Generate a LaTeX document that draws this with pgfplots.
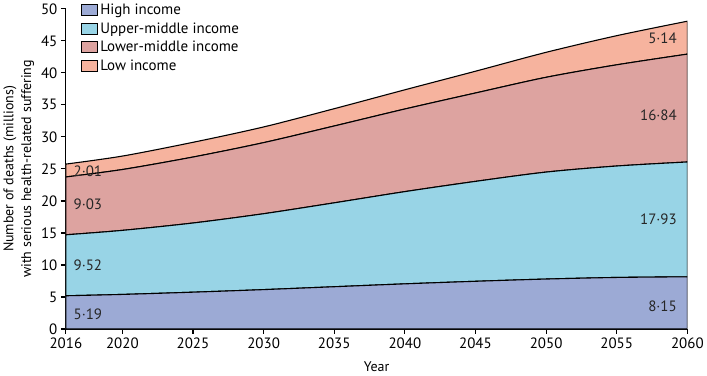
\documentclass[border=0pt]{standalone}
\usepackage{fontspec}
\setmainfont{PT Sans}
\usepackage{pgfplots}
\pgfplotsset{compat=1.18}
\definecolor{hi}{HTML}{9CAAD5}
\definecolor{um}{HTML}{98D4E6}
\definecolor{lm}{HTML}{DDA3A0}
\definecolor{lo}{HTML}{F6B39E}
\tikzset{vlab/.style={font=\fontsize{15}{17}\selectfont, text=black!85}}
\begin{document}
\begin{tikzpicture}
\begin{axis}[
  set layers,
  scale only axis,
  width=623pt, height=321pt,
  xmin=2016, xmax=2060, ymin=0, ymax=50,
  axis x line*=bottom, axis y line*=left,
  axis line style={line width=1.2pt},
  xtick={2016,2020,2025,2030,2035,2040,2045,2050,2055,2060},
  ytick={0,5,...,50},
  tick align=outside, major tick length=5pt,
  tick style={line width=1.2pt, black},
  /pgf/number format/1000 sep={},
  /pgf/number format/assume math mode=true,
  tick label style={font=\fontsize{15}{17}\selectfont},
  xlabel={Year},
  xlabel style={font=\fontsize{14}{16}\selectfont, yshift=-7pt},
  ylabel={Number of deaths (millions)\\with serious health-related suffering},
  ylabel style={font=\fontsize{14}{18}\selectfont, align=center, yshift=0pt},
  stack plots=y,
  legend style={at={(0.02,1.0)}, anchor=north west, yshift=9pt, draw=none, fill=none,
    font=\fontsize{15}{17}\selectfont, row sep=2.5pt},
  legend cell align=left,
  legend image code/.code={\draw[#1, line width=0.9pt] (0pt,-5.5pt) rectangle (16pt,5.5pt);},
]
\node[vlab, anchor=west, on layer=axis foreground] at (axis cs:2016.3,2.3) {5·19};
\node[vlab, anchor=west, on layer=axis foreground] at (axis cs:2016.3,9.9) {9·52};
\node[vlab, anchor=west, on layer=axis foreground] at (axis cs:2016.3,19.4) {9·03};
\node[vlab, anchor=west, on layer=axis foreground] at (axis cs:2016.3,24.7) {2·01};
\node[vlab, anchor=east, on layer=axis foreground] at (axis cs:2059.5,3.6) {8·15};
\node[vlab, anchor=east, on layer=axis foreground] at (axis cs:2059.5,17.2) {17·93};
\node[vlab, anchor=east, on layer=axis foreground] at (axis cs:2059.5,33.4) {16·84};
\node[vlab, anchor=east, on layer=axis foreground] at (axis cs:2059.5,45.4) {5·14};
\addplot[draw=black, line width=1.1pt, fill=hi, smooth] coordinates {(2016,5.19) (2020,5.4) (2025,5.75) (2030,6.15) (2035,6.6) (2040,7.05) (2045,7.45) (2050,7.8) (2055,8.05) (2060,8.15)} \closedcycle;
\addlegendentry{High income}
\addplot[draw=black, line width=1.1pt, fill=um, smooth] coordinates {(2016,9.52) (2020,10.0) (2025,10.8) (2030,11.85) (2035,13.1) (2040,14.4) (2045,15.6) (2050,16.7) (2055,17.4) (2060,17.93)} \closedcycle;
\addlegendentry{Upper-middle income}
\addplot[draw=black, line width=1.1pt, fill=lm, smooth] coordinates {(2016,9.03) (2020,9.5) (2025,10.3) (2030,11.1) (2035,12.0) (2040,12.9) (2045,13.8) (2050,14.8) (2055,15.8) (2060,16.84)} \closedcycle;
\addlegendentry{Lower-middle income}
\addplot[draw=black, line width=1.1pt, fill=lo, smooth] coordinates {(2016,2.01) (2020,2.1) (2025,2.3) (2030,2.45) (2035,2.7) (2040,3.0) (2045,3.4) (2050,3.9) (2055,4.55) (2060,5.14)} \closedcycle;
\addlegendentry{Low income}
\end{axis}
\end{tikzpicture}
\end{document}
